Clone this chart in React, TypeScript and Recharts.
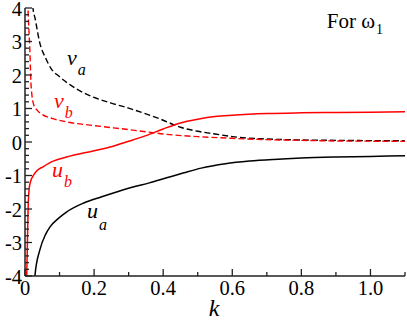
import React from 'react';
import { LineChart, Line, XAxis, YAxis } from 'recharts';

// ---- data ----
const kVa = [0.02, 0.023, 0.029, 0.043, 0.06, 0.075, 0.1, 0.15, 0.2, 0.25, 0.3, 0.35, 0.4, 0.43, 0.45, 0.5, 0.55, 0.6, 0.7, 0.8, 0.9, 1.0, 1.1];
const va = [4.6, 4.0, 3.7, 2.95, 2.5, 2.2, 1.95, 1.58, 1.33, 1.16, 1.01, 0.84, 0.65, 0.52, 0.44, 0.32, 0.24, 0.16, 0.09, 0.06, 0.05, 0.04, 0.035];

const kVb = [0.006, 0.009, 0.012, 0.014, 0.017, 0.02, 0.025, 0.035, 0.05, 0.08, 0.12, 0.2, 0.3, 0.37, 0.4, 0.5, 0.6, 0.7, 0.8, 0.9, 1.0, 1.1];
const vb = [5.0, 3.9, 3.2, 2.75, 1.8, 1.4, 1.12, 0.95, 0.82, 0.7, 0.6, 0.49, 0.37, 0.28, 0.24, 0.16, 0.11, 0.07, 0.05, 0.03, 0.025, 0.02];

const kUb = [0.003, 0.005, 0.007, 0.009, 0.012, 0.017, 0.023, 0.035, 0.052, 0.08, 0.12, 0.2, 0.25, 0.3, 0.35, 0.4, 0.45, 0.5, 0.55, 0.6, 0.7, 0.8, 0.9, 1.0, 1.1];
const ub = [-5.0, -4.0, -3.0, -2.0, -1.4, -1.15, -1.02, -0.85, -0.74, -0.58, -0.45, -0.26, -0.14, 0.02, 0.19, 0.39, 0.57, 0.68, 0.76, 0.8, 0.85, 0.87, 0.88, 0.89, 0.9];

const kUa = [0.025, 0.029, 0.043, 0.06, 0.072, 0.1, 0.12, 0.17, 0.22, 0.265, 0.31, 0.36, 0.41, 0.46, 0.51, 0.58, 0.65, 0.72, 0.8, 0.9, 1.0, 1.1];
const ua = [-4.6, -3.97, -3.22, -2.75, -2.54, -2.25, -2.09, -1.82, -1.64, -1.49, -1.35, -1.22, -1.07, -0.92, -0.78, -0.65, -0.57, -0.52, -0.48, -0.45, -0.43, -0.41];

const xTicks = [0, 0.1, 0.2, 0.3, 0.4, 0.5, 0.6, 0.7, 0.8, 0.9, 1.0, 1.1];
const xMajor = [0, 0.2, 0.4, 0.6, 0.8, 1.0];
const xLabels = ['0', '0.2', '0.4', '0.6', '0.8', '1.0'];
const yTicks = [-4, -3.8, -3.6, -3.4, -3.2, -3, -2.8, -2.6, -2.4, -2.2, -2, -1.8, -1.6, -1.4, -1.2, -1, -0.8, -0.6, -0.4, -0.2, 0, 0.2, 0.4, 0.6, 0.8, 1, 1.2, 1.4, 1.6, 1.8, 2, 2.2, 2.4, 2.6, 2.8, 3, 3.2, 3.4, 3.6, 3.8, 4];
const yMajor = [-4, -3, -2, -1, 0, 1, 2, 3, 4];
const yLabels = ['-4', '-3', '-2', '-1', '0', '1', '2', '3', '4'];

const mk = (ks: number[], vs: number[]) => ks.map((k, i) => ({ k, v: vs[i] }));
const dVa = mk(kVa, va);
const dVb = mk(kVb, vb);
const dUb = mk(kUb, ub);
const dUa = mk(kUa, ua);

const FONT = 'Liberation Serif';
const TICK_FS = 20.5;
const idxOf = (arr: number[], v: number) => arr.findIndex((m) => Math.abs(m - v) < 1e-6);

const makeXTick = (side: 'bottom' | 'top') => (props: any) => {
  const { x, y, payload } = props;
  const i = idxOf(xMajor, payload.value);
  const len = i >= 0 ? 7 : 4;
  const dir = side === 'bottom' ? -1 : 1;
  return (
    <g>
      <line x1={x} y1={y} x2={x} y2={y + dir * len} stroke="#222" strokeWidth={1.3} />
      {side === 'bottom' && i >= 0 && (
        <text x={x} y={y + 19} textAnchor="middle" fontFamily={FONT} fontSize={TICK_FS} fill="#000">
          {xLabels[i]}
        </text>
      )}
    </g>
  );
};

const makeYTick = (side: 'left' | 'right') => (props: any) => {
  const { x, y, payload } = props;
  const i = idxOf(yMajor, payload.value);
  const len = i >= 0 ? 7 : 4;
  const dir = side === 'left' ? 1 : -1;
  return (
    <g>
      <line x1={x} y1={y} x2={x + dir * len} y2={y} stroke="#222" strokeWidth={1.3} />
      {side === 'left' && i >= 0 && (
        <text x={x - 3} y={y + 7.5} textAnchor="end" fontFamily={FONT} fontSize={TICK_FS} fill="#000">
          {yLabels[i]}
        </text>
      )}
    </g>
  );
};

const axisLine = { stroke: '#222', strokeWidth: 1.5 };

function Sym(p: { x: number; y: number; main: string; sub: string; dy: number; color?: string }) {
  return (
    <text x={p.x} y={p.y} fontSize={22} fontFamily={FONT} fontStyle="italic" fill={p.color || '#000'}>
      {p.main}
      <tspan dx={1} dy={p.dy} fontSize={16}>
        {p.sub}
      </tspan>
    </text>
  );
}

export default function App() {
  return (
    <div style={{ position: 'absolute', left: 0, top: 0, width: 407, height: 320, background: '#fff' }}>
      <LineChart width={407} height={320} margin={{ top: 8, right: 2, bottom: 0, left: 0 }}>
        <XAxis
          xAxisId="b"
          dataKey="k"
          type="number"
          domain={[0, 1.1]}
          ticks={xTicks}
          interval={0}
          allowDataOverflow
          height={44}
          tickSize={0}
          tickMargin={0}
          tickLine={false}
          axisLine={axisLine}
          tick={makeXTick('bottom')}
        />
        <XAxis
          xAxisId="t"
          orientation="top"
          dataKey="k"
          type="number"
          domain={[0, 1.1]}
          ticks={xTicks}
          interval={0}
          allowDataOverflow
          height={0}
          tickSize={0}
          tickMargin={0}
          tickLine={false}
          axisLine={axisLine}
          tick={makeXTick('top')}
        />
        <YAxis
          yAxisId="l"
          type="number"
          domain={[-4, 4]}
          ticks={yTicks}
          interval={0}
          allowDataOverflow
          width={25}
          tickSize={0}
          tickMargin={0}
          tickLine={false}
          axisLine={axisLine}
          tick={makeYTick('left')}
        />
        <YAxis
          yAxisId="r"
          orientation="right"
          type="number"
          domain={[-4, 4]}
          ticks={yTicks}
          interval={0}
          allowDataOverflow
          width={0}
          tickSize={0}
          tickMargin={0}
          tickLine={false}
          axisLine={axisLine}
          tick={makeYTick('right')}
        />
        <Line xAxisId="b" yAxisId="l" data={dVa} dataKey="v" type="monotone" stroke="#000" strokeWidth={1.4} strokeDasharray="6 3" dot={false} isAnimationActive={false} />
        <Line xAxisId="b" yAxisId="l" data={dVb} dataKey="v" type="monotone" stroke="#ff0000" strokeWidth={1.4} strokeDasharray="6 3" dot={false} isAnimationActive={false} />
        <Line xAxisId="b" yAxisId="l" data={dUb} dataKey="v" type="monotone" stroke="#ff0000" strokeWidth={1.5} dot={false} isAnimationActive={false} />
        <Line xAxisId="b" yAxisId="l" data={dUa} dataKey="v" type="monotone" stroke="#000" strokeWidth={1.5} dot={false} isAnimationActive={false} />
      </LineChart>
      <svg width={407} height={320} style={{ position: 'absolute', left: 0, top: 0, pointerEvents: 'none' }}>
        <Sym x={67} y={65} main="v" sub="a" dy={10} />
        <Sym x={54} y={108} main="v" sub="b" dy={10} color="#ff0000" />
        <Sym x={52} y={177} main="u" sub="b" dy={10} color="#ff0000" />
        <Sym x={87} y={218} main="u" sub="a" dy={12} />
        <text x={214} y={316} fontSize={24} fontFamily={FONT} fontStyle="italic" textAnchor="middle" fill="#000">
          k
        </text>
        <text x={383} y={28} fontSize={21} fontFamily={FONT} textAnchor="end" fill="#000">
          For ω
          <tspan dx={1} dy={6} fontSize={14}>
            1
          </tspan>
        </text>
      </svg>
    </div>
  );
}
